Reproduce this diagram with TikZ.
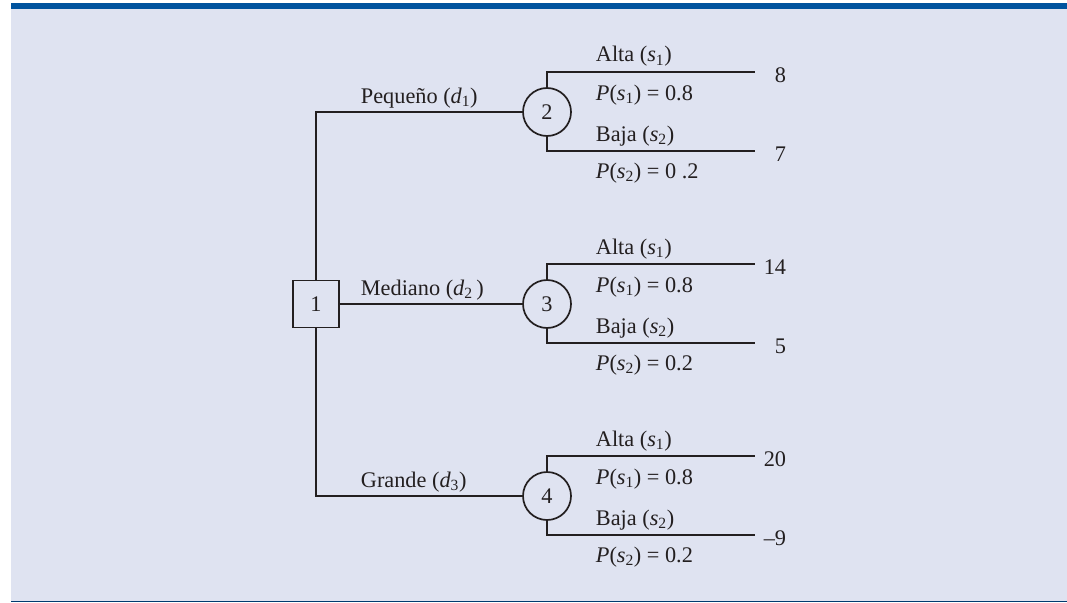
\documentclass[tikz,border=0pt]{standalone}
\usepackage{fontspec}
\setmainfont{Liberation Serif}
\definecolor{bgc}{HTML}{DFE3F1}
\definecolor{barc}{HTML}{00539E}
\definecolor{inkc}{HTML}{231F20}
\newcommand{\vs}[1]{\textit{s}\textsubscript{#1}}
\newcommand{\vd}[1]{\textit{d}\textsubscript{#1}}
\begin{document}
\begin{tikzpicture}[x=1pt,y=-1pt,
  line width=1.8pt,
  every node/.style={text=inkc,font=\fontsize{22.3}{26}\selectfont},
  decbox/.style={draw=inkc,line width=1.7pt,minimum width=46pt,minimum height=47pt,inner sep=0pt},
  chance/.style={draw=inkc,line width=1.7pt,circle,minimum size=48pt,inner sep=0pt},
  lbl/.style={anchor=base west,inner sep=0pt},
  val/.style={anchor=base east,inner sep=0pt},
  conn/.style={draw=inkc,line width=1.9pt}]
\useasboundingbox (0,0) rectangle (1067,602);
\fill[bgc] (11,9) rectangle (1067,601);
\fill[barc] (11,3) rectangle (1067,9);
\fill[barc!70!black] (11,600.8) rectangle (1067,602);

\node[decbox] (sq) at (316,304) {1};
\node[chance] (c2) at (547,112) {2};
\node[chance] (c3) at (547,304) {3};
\node[chance] (c4) at (547,496) {4};

\foreach \n/\y in {2/112,3/304,4/496}{
  \coordinate (e\n a) at (755,\y-40);
  \coordinate (e\n b) at (755,\y+39);
  \draw[conn] (c\n.north) |- (e\n a);
  \draw[conn] (c\n.south) |- (e\n b);
  \node[lbl] (la\n) at (595,\y-50) {Alta (\vs{1})};
  \node[lbl] (pa\n) at (595,\y-12) {\textit{P}(\vs{1}) = 0.8};
  \node[lbl] (lb\n) at (595,\y+29) {Baja (\vs{2})};
}
\node[lbl] (pb2) at (595,178) {\textit{P}(\vs{2}) = 0 .2};
\node[lbl] (pb3) at (595,370) {\textit{P}(\vs{2}) = 0.2};
\node[lbl] (pb4) at (595,562) {\textit{P}(\vs{2}) = 0.2};

\draw[conn] (sq.north) |- (c2.west);
\draw[conn] (sq.east) -- (c3.west);
\draw[conn] (sq.south) |- (c4.west);

\node[lbl] (d1) at (360,103) {Pequeño (\vd{1})};
\node[lbl] (d2) at (360,295) {Mediano (\vd{2}\,)};
\node[lbl] (d3) at (360,487) {Grande (\vd{3})};

\node[val] (v2a) at (787,82) {8};
\node[val] (v2b) at (787,161) {7};
\node[val] (v3a) at (787,274) {14};
\node[val] (v3b) at (787,353) {5};
\node[val] (v4a) at (787,466) {20};
\node[val] (v4b) at (787,545) {–9};
\end{tikzpicture}
\end{document}
